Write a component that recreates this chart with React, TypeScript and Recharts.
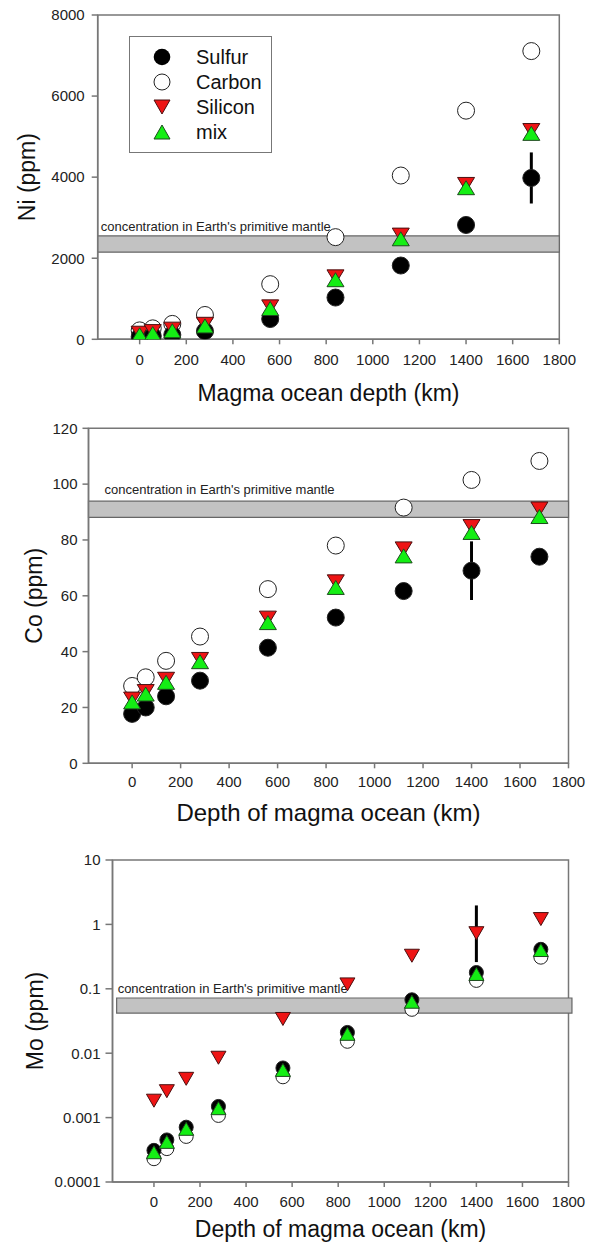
import { ScatterChart, Scatter, XAxis, YAxis, ReferenceArea, ErrorBar, Legend } from 'recharts';

const FONT = '"Liberation Sans", Arial, sans-serif';
const AXIS = '#777';
const RED = '#ee1414';
const GREEN = '#14ee14';

// depths of the magma ocean (km)
const depths = [0, 56, 140, 280, 560, 840, 1120, 1400, 1680];
const xTicks = [0, 200, 400, 600, 800, 1000, 1200, 1400, 1600, 1800];
const seriesNames = ['Sulfur', 'Carbon', 'Silicon', 'mix'];
const bandText = "concentration in Earth's primitive mantle";

// Ni (ppm)
const niSulfur = [60, 80, 110, 200, 500, 1030, 1820, 2820, 3980];
const niSulfurErr = [0, 0, 0, 0, 0, 0, 0, 0, 630];
const niCarbon = [220, 270, 380, 600, 1360, 2520, 4040, 5640, 7110];
const niSilicon = [150, 190, 250, 370, 800, 1540, 2570, 3820, 5150];
const niMix = [110, 140, 210, 330, 760, 1470, 2480, 3740, 5080];
const niTicks = [0, 2000, 4000, 6000, 8000];
const niBand = [2150, 2550];

// Co (ppm)
const coSulfur = [17.7, 20, 24, 29.6, 41.4, 52.2, 61.7, 69, 74];
const coSulfurErr = [0, 0, 0, 0, 0, 0, 0, 10.5, 0];
const coCarbon = [27.7, 30.8, 36.7, 45.4, 62.4, 78, 91.6, 101.5, 108.3];
const coSilicon = [23, 25.7, 30.1, 37.2, 52, 65, 76.8, 84.8, 91.1];
const coMix = [22, 24.8, 29, 36.4, 50.4, 63, 74.3, 82.7, 88.4];
const coTicks = [0, 20, 40, 60, 80, 100, 120];
const coBand = [88.1, 93.9];

// Mo (ppm)
const moSulfur = [0.00031, 0.00045, 0.00071, 0.00149, 0.0059, 0.021, 0.0675, 0.179, 0.41];
const moCarbon = [0.00023, 0.00033, 0.00051, 0.00108, 0.0043, 0.0153, 0.048, 0.135, 0.31];
const moSilicon = [0.00183, 0.00257, 0.004, 0.0085, 0.034, 0.117, 0.326, 0.73, 1.21];
const moSiliconErr = [0, 0, 0, 0, 0, 0, 0, [0.47, 1.24], 0];
const moMix = [0.00029, 0.00042, 0.00067, 0.0014, 0.0055, 0.02, 0.063, 0.17, 0.4];
const moTicks = [0.0001, 0.001, 0.01, 0.1, 1, 10];
const moBand = [0.042, 0.072];

const toPoints = (vals: number[], errs?: any[]) =>
  depths.map((x, i) => ({ x, y: vals[i], err: errs ? errs[i] : 0 }));

const circle = (r: number, fill: string) => (p: any) =>
  <circle cx={p.cx} cy={p.cy} r={r} fill={fill} stroke="#222" strokeWidth={1} />;

const triDown = (w: number, h: number) => (p: any) => (
  <polygon
    points={`${p.cx - w / 2},${p.cy - h / 2} ${p.cx + w / 2},${p.cy - h / 2} ${p.cx},${p.cy + h / 2}`}
    fill={RED}
    stroke="#4a1010"
    strokeWidth={1}
  />
);

const triUp = (w: number, h: number) => (p: any) => (
  <polygon
    points={`${p.cx},${p.cy - h / 2} ${p.cx - w / 2},${p.cy + h / 2} ${p.cx + w / 2},${p.cy + h / 2}`}
    fill={GREEN}
    stroke="#1d4a1d"
    strokeWidth={1}
  />
);

function LegendBox() {
  const icons = [
    <circle cx={9} cy={9} r={8.3} fill="#000" />,
    <circle cx={9} cy={9} r={8} fill="#fff" stroke="#222" strokeWidth={1} />,
    <polygon points="1,2 17,2 9,16" fill={RED} stroke="#4a1010" />,
    <polygon points="9,2 1,16 17,16" fill={GREEN} stroke="#1d4a1d" />,
  ];
  return (
    <div
      style={{
        position: 'relative',
        width: 143,
        height: 117,
        boxSizing: 'border-box',
        border: `1.5px solid ${AXIS}`,
        background: '#fff',
        fontFamily: FONT,
      }}
    >
      {seriesNames.map((name, i) => (
        <div key={name} style={{ position: 'absolute', left: 0, top: 8 + i * 25, height: 24, width: 140 }}>
          <svg width={18} height={18} style={{ position: 'absolute', left: 23, top: 3 }}>
            {icons[i]}
          </svg>
          <span style={{ position: 'absolute', left: 66, top: 0, fontSize: 20, lineHeight: '24px', color: '#111' }}>
            {name}
          </span>
        </div>
      ))}
    </div>
  );
}

function Panel(props: any) {
  const {
    top, height, margin, yWidth, xHeight, yDomain, yTicks, scale, band, bandX, bandLabel,
    sulfur, carbon, silicon, mix, yTitle, xTitle, yTitleX, xTitleDy, xTitleSize, yTickSize, yTickMargin,
    xTickMargin, r, tw, th, legend,
  } = props;
  const tick = { fontSize: 15, fill: '#222', fontFamily: FONT };
  return (
    <div style={{ position: 'absolute', left: 0, top }}>
      <ScatterChart width={590} height={height} margin={margin}>
        <XAxis
          type="number"
          dataKey="x"
          domain={[-180, 1800]}
          ticks={xTicks}
          allowDataOverflow
          height={xHeight}
          tick={tick}
          tickSize={5}
          tickMargin={xTickMargin}
          axisLine={{ stroke: AXIS, strokeWidth: 1.5 }}
          tickLine={{ stroke: AXIS, strokeWidth: 1.5 }}
          label={{
            content: ({ viewBox }: any) => (
              <text
                x={viewBox.x + viewBox.width / 2}
                y={viewBox.y + xTitleDy}
                textAnchor="middle"
                fontSize={xTitleSize}
                fontFamily={FONT}
                fill="#111"
              >
                {xTitle}
              </text>
            ),
          }}
        />
        <YAxis
          type="number"
          dataKey="y"
          scale={scale}
          domain={yDomain}
          ticks={yTicks}
          allowDataOverflow
          interval={0}
          width={yWidth}
          tick={tick}
          tickSize={yTickSize}
          tickMargin={yTickMargin}
          axisLine={{ stroke: AXIS, strokeWidth: 1.5 }}
          tickLine={{ stroke: AXIS, strokeWidth: 1.5 }}
          label={{
            content: ({ viewBox }: any) => {
              const cy = viewBox.y + viewBox.height / 2;
              return (
                <text
                  x={yTitleX}
                  y={cy}
                  transform={`rotate(-90 ${yTitleX} ${cy})`}
                  textAnchor="middle"
                  fontSize={23}
                  fontFamily={FONT}
                  fill="#111"
                >
                  {yTitle}
                </text>
              );
            },
          }}
        />
        <ReferenceArea
          x1={-180}
          x2={1800}
          y1={yDomain[0]}
          y2={yDomain[1]}
          fill="none"
          stroke={AXIS}
          strokeWidth={1.5}
        />
        <ReferenceArea
          x1={bandX[0]}
          x2={bandX[1]}
          y1={band[0]}
          y2={band[1]}
          ifOverflow="visible"
          fill="#c2c2c2"
          fillOpacity={1}
          stroke="#666"
          strokeWidth={1.2}
          label={{
            content: ({ viewBox }: any) => (
              <text
                x={viewBox.x + bandLabel[0]}
                y={viewBox.y - bandLabel[1]}
                fontSize={13}
                fontFamily={FONT}
                fill="#222"
              >
                {bandText}
              </text>
            ),
          }}
        />
        <Scatter name="Carbon" data={carbon} shape={circle(r, '#fff')} isAnimationActive={false} />
        <Scatter name="Sulfur" data={sulfur} shape={circle(r, '#000')} isAnimationActive={false}>
          <ErrorBar dataKey="err" direction="y" width={0} strokeWidth={3} stroke="#000" />
        </Scatter>
        <Scatter name="Silicon" data={silicon} shape={triDown(tw, th)} isAnimationActive={false}>
          <ErrorBar dataKey="err" direction="y" width={0} strokeWidth={3} stroke="#000" />
        </Scatter>
        <Scatter name="mix" data={mix} shape={triUp(tw, th)} isAnimationActive={false} />
        {legend && (
          <Legend
            layout="vertical"
            align="center"
            verticalAlign="middle"
            content={() => <LegendBox />}
            wrapperStyle={{ left: 129, top: 35.5, width: 143, height: 117 }}
          />
        )}
      </ScatterChart>
    </div>
  );
}

export default function App() {
  return (
    <div style={{ position: 'absolute', left: 0, top: 0, width: 590, height: 1249, background: '#fff' }}>
      <style>{'svg { overflow: visible; }'}</style>
      <Panel
        top={0}
        height={400}
        margin={{ top: 15, right: 30.7, bottom: 0, left: 0 }}
        yWidth={97.7}
        xHeight={60.7}
        yDomain={[0, 8000]}
        yTicks={niTicks}
        scale="linear"
        band={niBand}
        bandX={[-180, 1800]}
        bandLabel={[3, 5]}
        sulfur={toPoints(niSulfur, niSulfurErr)}
        carbon={toPoints(niCarbon)}
        silicon={toPoints(niSilicon)}
        mix={toPoints(niMix)}
        yTitle="Ni (ppm)"
        xTitle="Magma ocean depth (km)"
        xTitleSize={23}
        yTitleX={35}
        xTitleDy={62}
        yTickSize={6}
        yTickMargin={7}
        xTickMargin={10}
        r={8.5}
        tw={17}
        th={14}
        legend
      />
      <Panel
        top={400}
        height={420}
        margin={{ top: 28.3, right: 21.5, bottom: 0, left: 0 }}
        yWidth={88.5}
        xHeight={56.7}
        yDomain={[0, 120]}
        yTicks={coTicks}
        scale="linear"
        band={coBand}
        bandX={[-180, 1800]}
        bandLabel={[16, 7]}
        sulfur={toPoints(coSulfur, coSulfurErr)}
        carbon={toPoints(coCarbon)}
        silicon={toPoints(coSilicon)}
        mix={toPoints(coMix)}
        yTitle="Co (ppm)"
        xTitle="Depth of magma ocean (km)"
        xTitleSize={24}
        yTitleX={42}
        xTitleDy={58}
        yTickSize={6}
        yTickMargin={5}
        xTickMargin={8}
        r={8.5}
        tw={17}
        th={14}
      />
      <Panel
        top={820}
        height={429}
        margin={{ top: 40, right: 21.5, bottom: 0, left: 0 }}
        yWidth={112.5}
        xHeight={67}
        yDomain={[0.0001, 10]}
        yTicks={moTicks}
        scale="log"
        band={moBand}
        bandX={[-162, 1815]}
        bandLabel={[1, 5]}
        sulfur={toPoints(moSulfur)}
        carbon={toPoints(moCarbon)}
        silicon={toPoints(moSilicon, moSiliconErr)}
        mix={toPoints(moMix)}
        yTitle="Mo (ppm)"
        xTitle="Depth of magma ocean (km)"
        xTitleSize={23}
        yTitleX={43}
        xTitleDy={55}
        yTickSize={7}
        yTickMargin={5}
        xTickMargin={9.5}
        r={7}
        tw={15}
        th={13}
      />
    </div>
  );
}
